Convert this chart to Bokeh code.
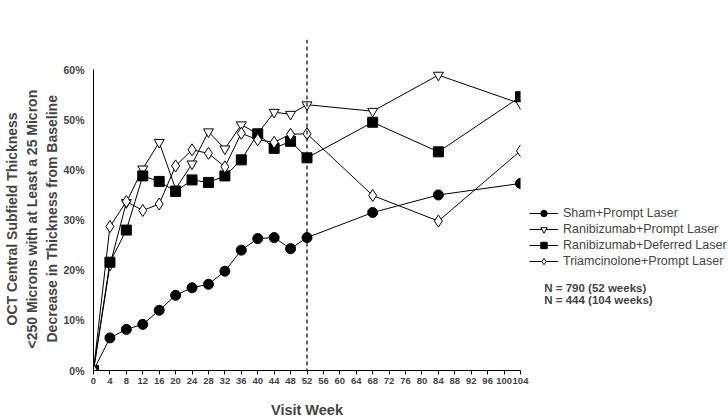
import numpy as np
from bokeh.plotting import figure
from bokeh.models import (Range1d, FixedTicker, Span, Label, Legend, LegendItem,
                          CustomJSTickFormatter, ColumnDataSource, Title)
from bokeh.embed import file_html
from bokeh.resources import INLINE

weeks = [0, 4, 8, 12, 16, 20, 24, 28, 32, 36, 40, 44, 48, 52, 68, 84, 104]
sham = [0, 6.5, 8.2, 9.2, 12.0, 15.0, 16.5, 17.2, 19.8, 24.0, 26.3, 26.5, 24.3, 26.5, 31.5, 35.0, 37.3]
rani_prompt = [0, 21.0, 33.5, 40.2, 45.5, 36.2, 41.2, 47.6, 44.2, 49.0, 47.2, 51.5, 51.1, 53.0, 51.7, 58.9, 53.2]
rani_deferred = [0, 21.6, 28.0, 38.8, 37.7, 35.7, 38.0, 37.5, 38.8, 42.0, 47.2, 44.3, 45.7, 42.4, 49.5, 43.6, 54.6]
triam = [0, 28.7, 33.7, 31.9, 33.2, 40.8, 44.0, 43.3, 40.6, 47.3, 46.0, 45.5, 47.1, 47.2, 34.9, 29.8, 43.8]
series_names = ["Sham+Prompt Laser", "Ranibizumab+Prompt Laser",
                "Ranibizumab+Deferred Laser", "Triamcinolone+Prompt Laser"]
x_ticks = list(range(0, 105, 4))
y_ticks = [0, 10, 20, 30, 40, 50, 60]
n_notes = ["N = 790 (52 weeks)", "N = 444 (104 weeks)"]
ylab_lines = ["OCT Central Subfield Thickness",
              "<250 Microns with at Least a 25 Micron",
              "Decrease in Thickness from Baseline"]

FONT = "Liberation Sans"

p = figure(frame_width=427, frame_height=331, output_backend="svg",
           toolbar_location=None, x_range=Range1d(0, 104), y_range=Range1d(0, 66),
           min_border_left=92, min_border_right=200, min_border_top=39,
           min_border_bottom=44, background_fill_color="white",
           border_fill_color="white", outline_line_color=None)
p.grid.visible = False

# x axis
xa = p.xaxis[0]
xa.ticker = FixedTicker(ticks=x_ticks)
xa.minor_tick_line_color = None
xa.major_tick_in = 0
xa.major_tick_out = 4
xa.axis_line_color = "black"
xa.major_label_text_font = FONT
xa.major_label_text_font_style = "bold"
xa.major_label_text_font_size = "9.5px"
xa.major_label_standoff = 3
xa.axis_label = "Visit Week"
xa.axis_label_text_font = FONT
xa.axis_label_text_font_style = "bold"
xa.axis_label_text_font_size = "14.5px"
xa.axis_label_standoff = 15

ya = p.yaxis[0]
ya.ticker = FixedTicker(ticks=y_ticks)
ya.bounds = (0, 60)
ya.minor_tick_line_color = None
ya.major_tick_in = 0
ya.major_tick_out = 0
ya.major_label_standoff = 9
ya.formatter = CustomJSTickFormatter(code="return tick + '%';")
ya.major_label_text_font = FONT
ya.major_label_text_font_style = "bold"
ya.major_label_text_font_size = "10.5px"

# y-axis title lines (innermost first), bottom-aligned with offsets to centre them
offsets = [45, 22, 28]
for t, off in reversed(list(zip(ylab_lines, offsets))):
    p.add_layout(Title(text=t, align="left", offset=off, standoff=2,
                       text_font=FONT, text_font_style="bold",
                       text_font_size="14px"), "left")

p.add_layout(Span(location=52, dimension="height", line_color="black",
                  line_dash="4 3", line_width=1.2))

src = ColumnDataSource(dict(w=weeks, a=sham, b=rani_prompt, c=rani_deferred, d=triam))

items = []
specs = [("a", "circle", "black", 10),
         ("b", "inverted_triangle", "white", 10),
         ("c", "square", "black", 10),
         ("d", "diamond", "white", 12)]
for (col, mk, fill, sz), name in zip(specs, series_names):
    ln = p.line("w", col, source=src, line_color="black", line_width=1)
    sc = p.scatter("w", col, source=src, marker=mk, size=sz, fill_color=fill,
                   line_color="black", line_width=1)
    items.append(LegendItem(label=name, renderers=[ln, sc]))

legend = Legend(items=items, location=(9, 101), padding=0, margin=0, spacing=0,
                label_height=16, glyph_height=16, glyph_width=29, label_standoff=5,
                label_text_font=FONT, label_text_font_size="12.5px",
                border_line_color=None, background_fill_alpha=0)
p.add_layout(legend, "right")

# notes below the legend: x in data units (past the frame), y in panel pixels
for i, t in enumerate(n_notes):
    p.add_layout(Label(x=109.8, y=83 - 12 * i, x_units="data", y_units="screen",
                       text=t, text_font=FONT, text_font_style="bold",
                       text_font_size="11.5px", text_baseline="middle"), "right")

open("out.html", "w").write(file_html(p, INLINE))
